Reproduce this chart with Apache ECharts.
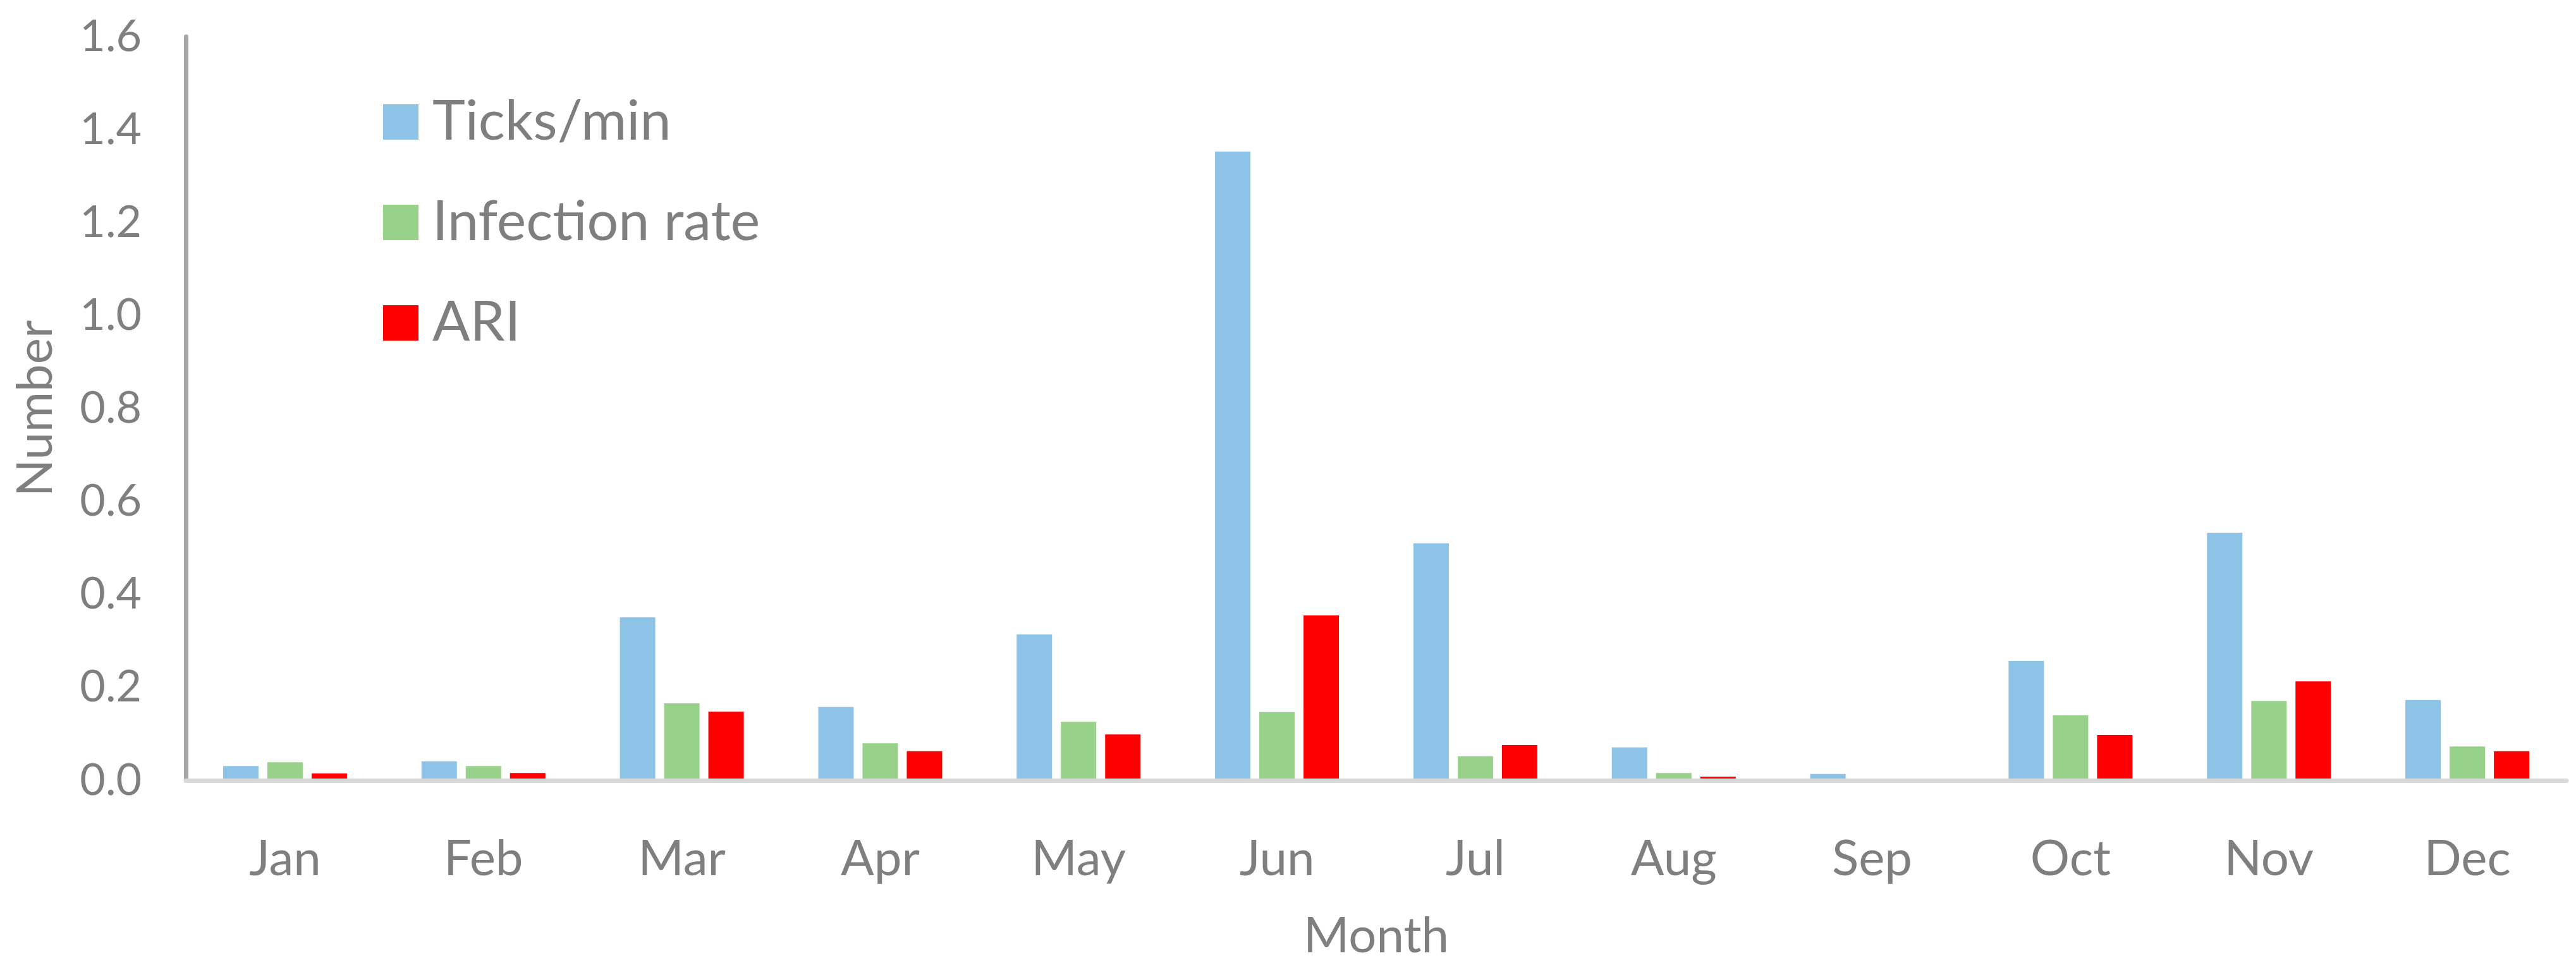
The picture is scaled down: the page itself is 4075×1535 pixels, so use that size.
<!DOCTYPE html>
<html>
<head>
<meta charset="utf-8">
<script src="https://cdn.jsdelivr.net/npm/echarts@6/dist/echarts.min.js"></script>
<style>
html,body{margin:0;padding:0;background:#fff;}
#chart{width:4075px;height:1535px;}
</style>
</head>
<body>
<div id="chart"></div>
<script>
const months = ['Jan','Feb','Mar','Apr','May','Jun','Jul','Aug','Sep','Oct','Nov','Dec'];
const ticksPerMin = [0.031, 0.041, 0.351, 0.158, 0.314, 1.353, 0.510, 0.071, 0.014, 0.257, 0.533, 0.173];
const infectionRate = [0.039, 0.031, 0.166, 0.080, 0.126, 0.147, 0.052, 0.016, 0, 0.140, 0.171, 0.073];
const ari = [0.015, 0.016, 0.148, 0.063, 0.099, 0.355, 0.076, 0.008, 0, 0.098, 0.213, 0.063];
const seriesNames = ['Ticks/min', 'Infection rate', 'ARI'];
const seriesColors = ['#8DC3E6', '#98D28A', '#FF0000'];

const FONT = 'Lato';
const TXT = '#7F7F7F';

const chart = echarts.init(document.getElementById('chart'));
const dataSets = [ticksPerMin, infectionRate, ari];
chart.setOption({
  backgroundColor: '#ffffff',
  animation: false,
  textStyle: { fontFamily: FONT },
  legend: {
    orient: 'vertical',
    left: 601,
    top: 144,
    icon: 'rect',
    itemWidth: 56,
    itemHeight: 56,
    itemGap: 71,
    textStyle: { color: TXT, fontSize: 88, fontFamily: FONT, padding: [0, 0, 0, 17] },
    data: seriesNames
  },
  grid: { left: 294, right: 15, top: 58, bottom: 300, containLabel: false },
  xAxis: {
    type: 'category',
    data: months,
    z: 5,
    axisLine: { show: true, lineStyle: { color: '#D9D9D9', width: 7 } },
    axisTick: { show: false },
    axisLabel: { color: TXT, fontSize: 78, fontFamily: FONT, margin: 86 },
    name: 'Month',
    nameLocation: 'middle',
    nameGap: 208,
    nameTextStyle: { color: TXT, fontSize: 78, fontFamily: FONT }
  },
  yAxis: {
    type: 'value',
    min: 0,
    max: 1.6,
    interval: 0.2,
    axisLine: { show: true, lineStyle: { color: '#A6A6A6', width: 7 } },
    axisTick: { show: false },
    splitLine: { show: false },
    axisLabel: { color: TXT, fontSize: 70, fontFamily: FONT, margin: 70, formatter: v => v.toFixed(1) },
    name: 'Number',
    nameLocation: 'middle',
    nameGap: 198,
    nameTextStyle: { color: TXT, fontSize: 78, fontFamily: FONT }
  },
  series: seriesNames.map((n, i) => ({
    name: n,
    type: 'bar',
    data: dataSets[i],
    barWidth: 56,
    barGap: '25%',
    itemStyle: { color: seriesColors[i] }
  }))
});
</script>
</body>
</html>
